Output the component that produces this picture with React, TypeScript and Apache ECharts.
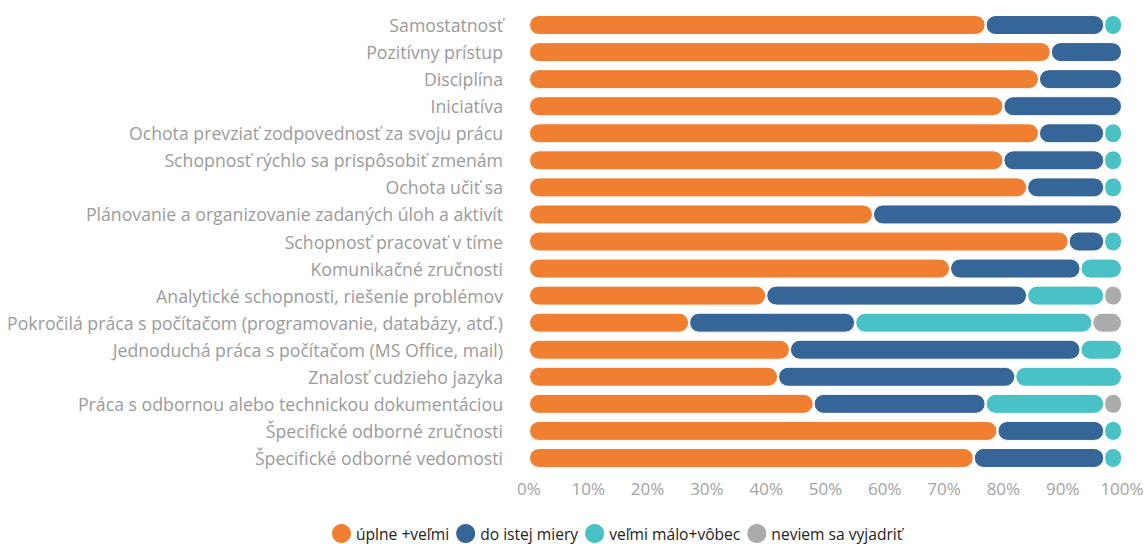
import React, { useEffect, useRef } from "react";
import * as echarts from "echarts";

const categories = [
  "Samostatnosť",
  "Pozitívny prístup",
  "Disciplína",
  "Iniciatíva",
  "Ochota prevziať zodpovednosť za svoju prácu",
  "Schopnosť rýchlo sa prispôsobiť zmenám",
  "Ochota učiť sa",
  "Plánovanie a organizovanie zadaných úloh a aktivít",
  "Schopnosť pracovať v tíme",
  "Komunikačné zručnosti",
  "Analytické schopnosti, riešenie problémov",
  "Pokročilá práca s počítačom (programovanie, databázy, atď.)",
  "Jednoduchá práca s počítačom (MS Office, mail)",
  "Znalosť cudzieho jazyka",
  "Práca s odbornou alebo technickou dokumentáciou",
  "Špecifické odborné zručnosti",
  "Špecifické odborné vedomosti",
];

const seriesNames = ["úplne +veľmi", "do istej miery", "veľmi málo+vôbec", "neviem sa vyjadriť"];

const uplneVelmi = [77, 88, 86, 80, 86, 80, 84, 58, 91, 71, 40, 27, 44, 42, 48, 79, 75];
const doIstejMiery = [20, 12, 14, 20, 11, 17, 13, 42, 6, 22, 44, 28, 49, 40, 29, 18, 22];
const velmiMaloVobec = [3, 0, 0, 0, 3, 3, 3, 0, 3, 7, 13, 40, 7, 18, 20, 3, 3];
const neviem = [0, 0, 0, 0, 0, 0, 0, 0, 0, 0, 3, 5, 0, 0, 3, 0, 0];

const colors = ["#F07F32", "#356697", "#49C1C5", "#ABABAB"];

const xTicks = { min: 0, max: 100, interval: 10 };

export default function App() {
  const ref = useRef<HTMLDivElement>(null);
  useEffect(() => {
    if (!ref.current) return;
    const chart = echarts.init(ref.current, null, { renderer: "svg" });
    const data = [uplneVelmi, doIstejMiery, velmiMaloVobec, neviem];
    chart.setOption({
      animation: false,
      color: colors,
      textStyle: { fontFamily: "Open Sans" },
      grid: { left: 529, right: 26, top: 11.5, bottom: 72.5, containLabel: false },
      legend: {
        data: seriesNames,
        left: 330,
        top: 522,
        padding: 0,
        icon: "circle",
        itemWidth: 21,
        itemHeight: 21,
        itemGap: 5,
        textStyle: {
          color: "#222",
          fontSize: 15.6,
          lineHeight: 18,
          fontFamily: "Open Sans",
          padding: [0, 0, 0, -1],
        },
      },
      xAxis: {
        type: "value",
        min: xTicks.min,
        max: xTicks.max,
        interval: xTicks.interval,
        axisLine: { show: false },
        axisTick: { show: false },
        splitLine: { show: false },
        axisLabel: { formatter: "{value}%", color: "#a3a3a3", fontSize: 17, margin: 8 },
      },
      yAxis: {
        type: "category",
        inverse: true,
        data: categories,
        axisLine: { show: false },
        axisTick: { show: false },
        splitLine: { show: false },
        axisLabel: { color: "#9b9b9b", fontSize: 17.7, margin: 26 },
      },
      series: seriesNames.map((name, i) => ({
        name,
        type: "bar",
        stack: "total",
        barWidth: 20,
        data: data[i].map((v) => (v === 0 ? null : v)),
        itemStyle: {
          color: colors[i],
          borderRadius: 10,
          borderColor: "#fff",
          borderWidth: 1,
        },
      })),
    });
    return () => chart.dispose();
  }, []);
  return (
    <div
      ref={ref}
      style={{ position: "fixed", left: 0, top: 0, width: 1148, height: 544, background: "#fff" }}
    />
  );
}
